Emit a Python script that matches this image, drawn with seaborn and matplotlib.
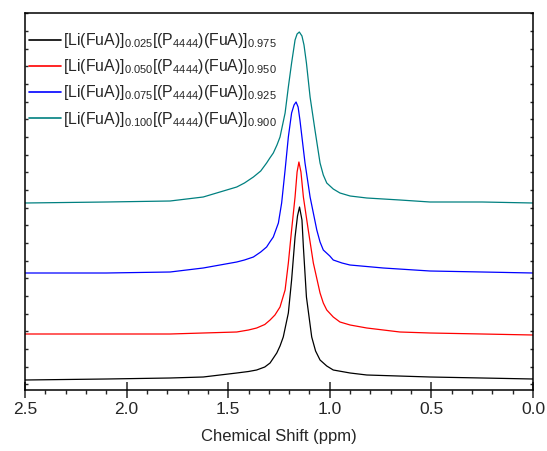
import matplotlib
matplotlib.use("Agg")
import matplotlib.pyplot as plt
import seaborn as sns
import numpy as np
import pandas as pd
from matplotlib.ticker import MultipleLocator, FixedLocator

# ---- data (ppm, intensity with stacking offset) ----
black_ppm = [2.5, 2.1, 1.786, 1.623, 1.458, 1.40, 1.360, 1.32, 1.294, 1.261, 1.245, 1.229, 1.204,
             1.188, 1.171, 1.159, 1.149, 1.137, 1.130, 1.115, 1.089, 1.070, 1.048, 1.015, 0.983,
             0.90, 0.818, 0.507, 0.25, 0.0]
black_int = [10, 11, 12, 13, 17, 18.5, 20, 23, 27, 37, 44, 53, 77,
             110, 153, 174, 183, 170, 143, 93, 53, 39, 30, 24, 20,
             17, 15, 13, 12, 11]

red_ppm = [2.5, 2.1, 1.786, 1.623, 1.458, 1.40, 1.360, 1.32, 1.294, 1.27, 1.245, 1.220, 1.204,
           1.188, 1.171, 1.161, 1.152, 1.142, 1.130, 1.106, 1.081, 1.048, 1.032, 1.015, 0.983,
           0.950, 0.90, 0.818, 0.655, 0.507, 0.25, 0.0]
red_int = [56, 56, 56, 57, 58, 60, 62, 65.5, 70, 75, 83, 100, 127,
           160, 193, 218, 228, 218, 193, 160, 127, 97, 87, 80, 73,
           68, 65, 62, 58, 57, 56, 55]

blue_ppm = [2.5, 2.1, 1.786, 1.623, 1.458, 1.42, 1.376, 1.34, 1.311, 1.295, 1.278, 1.253, 1.237,
            1.220, 1.204, 1.188, 1.176, 1.166, 1.156, 1.147, 1.122, 1.097, 1.064, 1.048, 1.032,
            1.00, 0.983, 0.94, 0.901, 0.737, 0.507, 0.25, 0.0]
blue_int = [117, 117, 118, 122, 128, 130, 133, 138, 143, 148, 153, 167, 187,
            220, 253, 277, 285, 288, 283, 270, 227, 193, 160, 148, 140,
            134, 130, 127, 125, 122, 119, 118, 117]

teal_ppm = [2.5, 2.1, 1.786, 1.623, 1.458, 1.42, 1.376, 1.34, 1.311, 1.295, 1.278, 1.26, 1.245,
            1.220, 1.204, 1.188, 1.171, 1.161, 1.150, 1.137, 1.127, 1.115, 1.097, 1.073, 1.048,
            1.032, 1.015, 0.983, 0.950, 0.90, 0.818, 0.655, 0.507, 0.25, 0.0]
teal_int = [187, 188, 189, 193, 203, 207, 213, 219, 227, 232, 237, 245, 253,
            277, 303, 327, 350, 356, 358, 354, 345, 327, 293, 260, 227,
            215, 207, 201, 197, 194, 192, 190, 188, 188, 187]

labels = [r"[Li(FuA)]$_{0.025}$[(P$_{4444}$)(FuA)]$_{0.975}$",
          r"[Li(FuA)]$_{0.050}$[(P$_{4444}$)(FuA)]$_{0.950}$",
          r"[Li(FuA)]$_{0.075}$[(P$_{4444}$)(FuA)]$_{0.925}$",
          r"[Li(FuA)]$_{0.100}$[(P$_{4444}$)(FuA)]$_{0.900}$"]
colors = ["#000000", "#FF0000", "#0000FF", "#008080"]
xticks = [2.5, 2.0, 1.5, 1.0, 0.5, 0.0]
xlabel = "Chemical Shift (ppm)"

# ---- style ----
sns.set_theme(style="ticks")
plt.rcParams["font.family"] = ["Liberation Sans", "DejaVu Sans"]
plt.rcParams["mathtext.fontset"] = "custom"
plt.rcParams["mathtext.rm"] = "Liberation Sans"
plt.rcParams["mathtext.it"] = "Liberation Sans:italic"
plt.rcParams["mathtext.bf"] = "Liberation Sans:bold"

fig = plt.figure(figsize=(5.47, 4.51), dpi=100)
ax = fig.add_axes([25 / 547, 1 - 390 / 451, 508 / 547, 377 / 451])

series = [(black_ppm, black_int), (red_ppm, red_int), (blue_ppm, blue_int), (teal_ppm, teal_int)]
for (xs, ys), lab, col in zip(series, labels, colors):
    df = pd.DataFrame({"ppm": xs, "intensity": ys})
    sns.lineplot(data=df, x="ppm", y="intensity", ax=ax, color=col, lw=0.9,
                 label=lab, sort=False, estimator=None)

ax.set_xlim(2.5, 0.0)
ax.set_ylim(0, 377)
ax.set_xticks(xticks)
ax.set_xticklabels([f"{t:.1f}" for t in xticks])
ax.xaxis.set_minor_locator(MultipleLocator(0.1))
ax.yaxis.set_major_locator(FixedLocator(np.arange(5.6, 377, 17.67)))
ax.set_yticklabels([])
ax.set_ylabel("")
ax.set_xlabel(xlabel, fontsize=12, labelpad=9)

ax.tick_params(axis="x", which="major", direction="inout", length=11, width=1.1,
               labelsize=12.5, pad=3, top=False)
ax.tick_params(axis="x", which="minor", direction="out", length=3, width=1.0, top=False)
ax.tick_params(axis="y", which="major", direction="in", length=2.5, width=1.0,
               left=True, right=True, labelleft=False)
for s in ax.spines.values():
    s.set_visible(True)
    s.set_linewidth(1.1)
    s.set_color("black")

leg = ax.legend(loc="upper left", bbox_to_anchor=(-0.011, 0.977), frameon=False,
                fontsize=11.4, handlelength=2.05, handletextpad=0.08,
                labelspacing=0.45, borderaxespad=0.2)
for h in leg.get_lines():
    h.set_linewidth(1.2)

fig.savefig("out.png", dpi=100)
